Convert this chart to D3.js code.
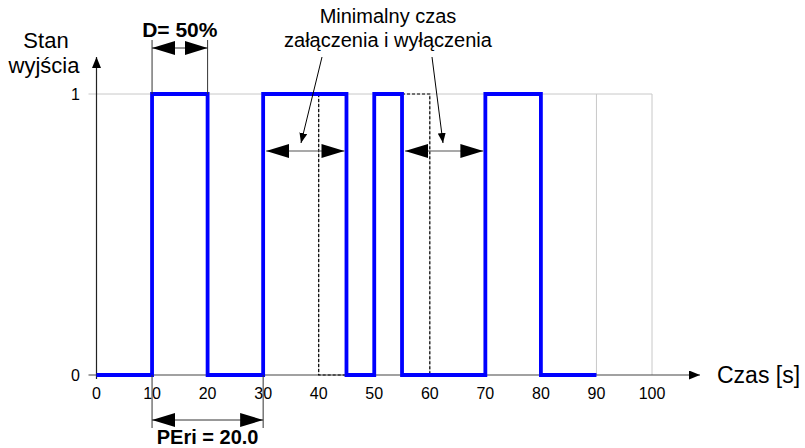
<!DOCTYPE html>
<html>
<head>
<meta charset="utf-8">
<script src="https://cdn.jsdelivr.net/npm/d3@7"></script>
<style>
  body { margin: 0; background: #fff; }
  text { font-family: "Liberation Sans", Arial, sans-serif; fill: #000; }
</style>
</head>
<body>
<script>
// dane wykresu
const timeTicks = [0, 10, 20, 30, 40, 50, 60, 70, 80, 90, 100];
const stateTicks = [0, 1];
const signalTime = [0, 10, 20, 30, 45, 50, 55, 70, 80, 90];
const signalState = [0, 1, 0, 1, 0, 1, 0, 1, 0, 0];
// przebieg "idealny" (linia przerywana)
const idealA = [[40, 1], [40, 0], [45, 0]];
const idealB = [[55, 1], [60, 1], [60, 0]];
const dutyMarks = [10, 20];
const periodMarks = [10, 30];
const minTimeSpans = [[30, 45], [55, 70]];

const width = 805, height = 448;

const svg = d3.select("body").append("svg")
    .attr("width", width)
    .attr("height", height);

const x = d3.scaleLinear().domain([0, 100]).range([96.5, 652]);
const y = d3.scaleLinear().domain([0, 1]).range([375, 94]);

// markery strzalek
const defs = svg.append("defs");
defs.append("marker")
    .attr("id", "big")
    .attr("markerUnits", "userSpaceOnUse")
    .attr("markerWidth", 24).attr("markerHeight", 14)
    .attr("refX", 23).attr("refY", 7)
    .attr("orient", "auto-start-reverse")
    .append("path").attr("d", "M0,0 L23,7 L0,14 Z").attr("fill", "#000");
defs.append("marker")
    .attr("id", "small")
    .attr("markerUnits", "userSpaceOnUse")
    .attr("markerWidth", 10).attr("markerHeight", 8)
    .attr("refX", 10).attr("refY", 4)
    .attr("orient", "auto")
    .append("path").attr("d", "M0,0 L10,4 L0,8 Z").attr("fill", "#000");
defs.append("marker")
    .attr("id", "axis")
    .attr("markerUnits", "userSpaceOnUse")
    .attr("markerWidth", 11).attr("markerHeight", 9)
    .attr("refX", 11).attr("refY", 4.5)
    .attr("orient", "auto")
    .append("path").attr("d", "M0,0 L11,4.5 L0,9 Z").attr("fill", "#000");

// siatka
svg.append("g").selectAll("line.v")
    .data(timeTicks.slice(1))
    .enter().append("line")
    .attr("x1", d => x(d)).attr("x2", d => x(d))
    .attr("y1", y(1)).attr("y2", y(0))
    .attr("stroke", "#c8c8c8").attr("stroke-width", 1);
svg.append("line")
    .attr("x1", x(0) - 8).attr("x2", x(100))
    .attr("y1", y(1)).attr("y2", y(1))
    .attr("stroke", "#c8c8c8").attr("stroke-width", 1);

// osie
svg.append("line")
    .attr("x1", x(0) - 8).attr("x2", 700)
    .attr("y1", y(0)).attr("y2", y(0))
    .attr("stroke", "#444").attr("stroke-width", 1.2)
    .attr("marker-end", "url(#axis)");
svg.append("line")
    .attr("x1", x(0)).attr("x2", x(0))
    .attr("y1", y(0) + 4).attr("y2", 57)
    .attr("stroke", "#222").attr("stroke-width", 1.2)
    .attr("marker-end", "url(#axis)");

svg.append("g").selectAll("text")
    .data(timeTicks)
    .enter().append("text")
    .attr("x", d => x(d)).attr("y", 399)
    .attr("text-anchor", "middle")
    .style("font-size", "16px")
    .text(d => d);

svg.append("g").selectAll("text")
    .data(stateTicks)
    .enter().append("text")
    .attr("x", 80).attr("y", d => y(d) + 6)
    .attr("text-anchor", "end")
    .style("font-size", "16px")
    .text(d => d);

svg.append("text").attr("x", 717).attr("y", 383)
    .style("font-size", "23px").text("Czas [s]");
svg.append("text").attr("x", 46).attr("y", 48)
    .attr("text-anchor", "middle")
    .style("font-size", "22px").text("Stan");
svg.append("text").attr("x", 44).attr("y", 73)
    .attr("text-anchor", "middle")
    .style("font-size", "22px").text("wyjścia");

// przebieg przerywany
const dashLine = d3.line().x(d => x(d[0])).y(d => y(d[1]));
[idealA, idealB].forEach(seg => {
    svg.append("path")
        .attr("d", dashLine(seg))
        .attr("fill", "none")
        .attr("stroke", "#000").attr("stroke-width", 1.2)
        .attr("stroke-dasharray", "3,2");
});

// sygnal wyjsciowy
const signal = signalTime.map((t, i) => [t, signalState[i]]);
svg.append("path")
    .datum(signal)
    .attr("d", d3.line().x(d => x(d[0])).y(d => y(d[1])).curve(d3.curveStepAfter))
    .attr("fill", "none")
    .attr("stroke", "#0000ff")
    .attr("stroke-width", 3.8);

// D= 50%
dutyMarks.forEach(t => {
    svg.append("line")
        .attr("x1", x(t)).attr("x2", x(t))
        .attr("y1", 40).attr("y2", y(1))
        .attr("stroke", "#333").attr("stroke-width", 1);
});
svg.append("line")
    .attr("x1", x(dutyMarks[0])).attr("x2", x(dutyMarks[1]))
    .attr("y1", 48).attr("y2", 48)
    .attr("stroke", "#333").attr("stroke-width", 1)
    .attr("marker-start", "url(#big)").attr("marker-end", "url(#big)");
svg.append("text")
    .attr("x", (x(dutyMarks[0]) + x(dutyMarks[1])) / 2).attr("y", 37)
    .attr("text-anchor", "middle")
    .style("font-size", "21px").style("font-weight", "bold")
    .text("D= 50%");

// PEri = 20.0
periodMarks.forEach(t => {
    svg.append("line")
        .attr("x1", x(t)).attr("x2", x(t))
        .attr("y1", y(0)).attr("y2", 428)
        .attr("stroke", "#333").attr("stroke-width", 1);
});
svg.append("line")
    .attr("x1", x(periodMarks[0])).attr("x2", x(periodMarks[1]))
    .attr("y1", 420).attr("y2", 420)
    .attr("stroke", "#333").attr("stroke-width", 1)
    .attr("marker-start", "url(#big)").attr("marker-end", "url(#big)");
svg.append("text")
    .attr("x", (x(periodMarks[0]) + x(periodMarks[1])) / 2).attr("y", 444)
    .attr("text-anchor", "middle")
    .style("font-size", "20px").style("font-weight", "bold")
    .text("PEri = 20.0");

// minimalny czas
minTimeSpans.forEach(s => {
    svg.append("line")
        .attr("x1", x(s[0]) + 3).attr("x2", x(s[1]) - 2)
        .attr("y1", 151).attr("y2", 151)
        .attr("stroke", "#555").attr("stroke-width", 1.2)
        .attr("marker-start", "url(#big)").attr("marker-end", "url(#big)");
});
svg.append("line")
    .attr("x1", 322).attr("y1", 57).attr("x2", 301).attr("y2", 143)
    .attr("stroke", "#000").attr("stroke-width", 1)
    .attr("marker-end", "url(#small)");
svg.append("line")
    .attr("x1", 432).attr("y1", 57).attr("x2", 443).attr("y2", 143)
    .attr("stroke", "#000").attr("stroke-width", 1)
    .attr("marker-end", "url(#small)");
svg.append("text").attr("x", 388).attr("y", 23)
    .attr("text-anchor", "middle")
    .style("font-size", "20px").text("Minimalny czas");
svg.append("text").attr("x", 388).attr("y", 47)
    .attr("text-anchor", "middle")
    .style("font-size", "20px").text("załączenia i wyłączenia");
</script>
</body>
</html>
